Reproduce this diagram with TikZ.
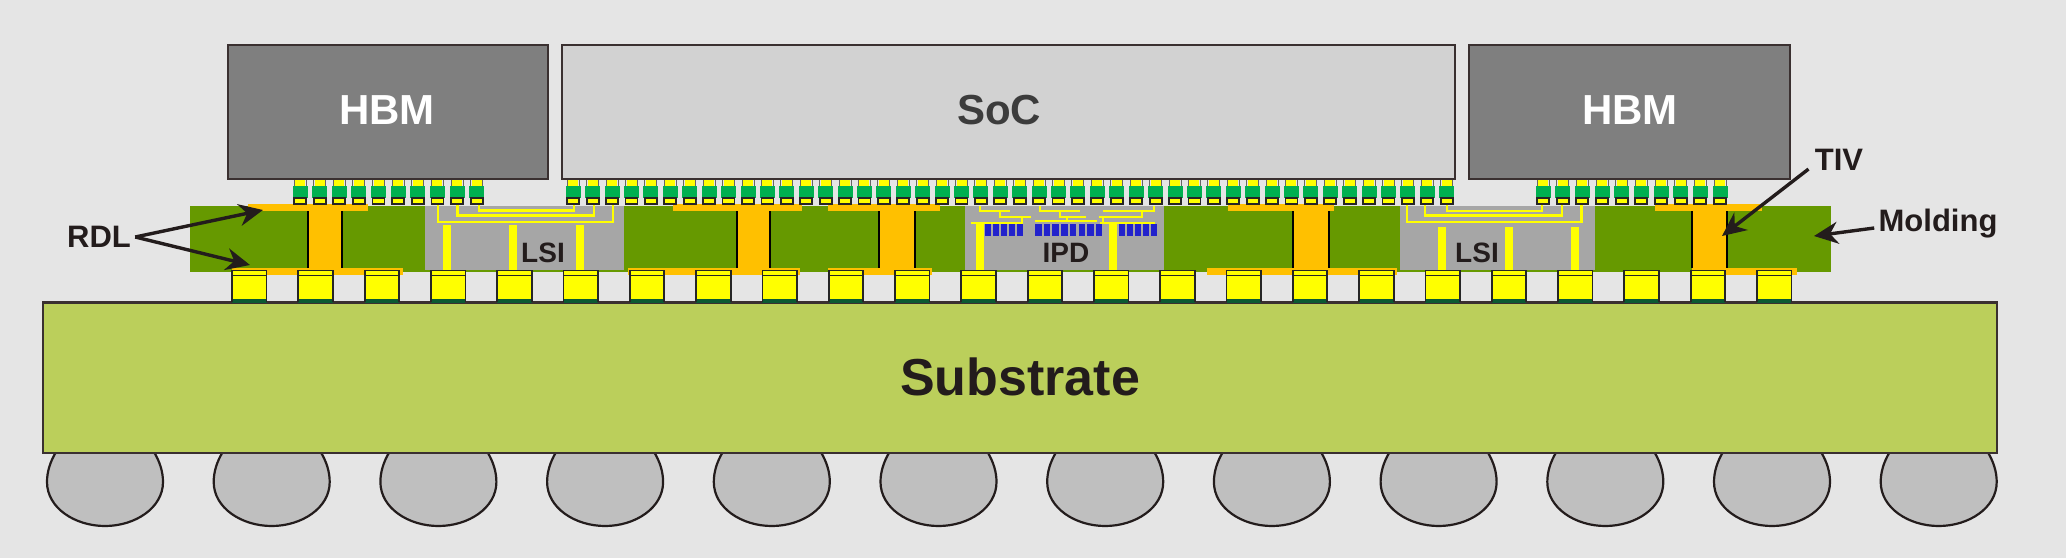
\documentclass[tikz,border=0pt]{standalone}
\usepackage{fontspec}
\setmainfont{Liberation Sans}
\usetikzlibrary{arrows.meta}
\definecolor{bgc}{HTML}{E5E5E5}
\definecolor{edgec}{HTML}{3A3030}
\definecolor{hbmc}{HTML}{7F7F7F}
\definecolor{socc}{HTML}{D2D2D2}
\definecolor{moldc}{HTML}{669900}
\definecolor{subc}{HTML}{BBCF5B}
\definecolor{ballc}{HTML}{BFBFBF}
\definecolor{rdlc}{HTML}{FFC000}
\definecolor{lsic}{HTML}{A6A6A6}
\definecolor{bumpg}{HTML}{00B050}
\definecolor{wirec}{HTML}{FFFF00}
\definecolor{darkg}{HTML}{0B5A32}
\definecolor{ipdb}{HTML}{2222CC}
\definecolor{inkc}{HTML}{231C1C}
\definecolor{dietext}{HTML}{3C3C3C}
\newcommand{\microbump}[1]{%
  \fill[bumpg] (#1-7.5,186) rectangle (#1+7.5,198);
  \fill[wirec] (#1-5,180) rectangle (#1+5,186);
  \draw[black!85,line width=.9pt,fill=wirec] (#1-6,198) rectangle (#1+6,204);
  \draw[black!60,line width=.5pt] (#1-6,180) -- (#1-6,186) (#1+6,180) -- (#1+6,186);
}
\newcommand{\cfourbump}[1]{%
  \fill[wirec] (#1,270) rectangle (#1+34.5,300);
  \fill[darkg] (#1,298.5) rectangle (#1+34.5,302.5);
  \draw[black!85,line width=.9pt] (#1,302) -- (#1,270.5) -- (#1+34.5,270.5) -- (#1+34.5,302);
  \draw[black!85,line width=.5pt] (#1,275) -- (#1+34.5,275);
}
\newcommand{\tivcol}[6]{% topL topR pillarL pillarR botL botR
  \fill[rdlc] (#1,204) rectangle (#2,211);
  \fill[rdlc] (#5,268) rectangle (#6,275);
  \fill[rdlc] (#3,204) rectangle (#4,275);
  \draw[black,line width=1.4pt] (#3,211) -- (#3,268) (#4,211) -- (#4,268);
}
\begin{document}
\begin{tikzpicture}[x=0.5pt,y=-0.5pt,
  die/.style={draw=edgec,line width=1.2pt},
  diename/.style={font=\bfseries\fontsize{21}{21}\selectfont},
  smalltag/.style={font=\bfseries\fontsize{14}{15}\selectfont,text=inkc,inner sep=0pt},
  callout/.style={font=\bfseries\fontsize{15.5}{16}\selectfont,text=inkc,inner sep=0pt},
  wire/.style={draw=wirec,line width=1.4pt},
  pillar/.style={draw=wirec,line width=3.6pt},
  pointer/.style={draw=inkc,line width=1.7pt,-{Stealth[length=12pt,width=11pt]}},
  ball/.style={draw=inkc,fill=ballc,line width=1.1pt}]
\useasboundingbox (0,0) rectangle (2066,558);
\fill[bgc] (0,0) rectangle (2066,558);
% solder balls
\foreach \k in {0,...,11}{
  \pgfmathsetmacro{\c}{105+166.7*\k}
  \draw[ball] (\c-49,452) .. controls (\c-55,462) and (\c-58,472) .. (\c-58,482)
     .. controls (\c-58,508) and (\c-30,526) .. (\c,526)
     .. controls (\c+30,526) and (\c+58,508) .. (\c+58,482)
     .. controls (\c+58,472) and (\c+55,462) .. (\c+49,452);
}
% dies and substrate
\draw[die,fill=subc,line width=1.4pt] (43,302.7) rectangle (1997,453);
\draw[die,fill=hbmc] (228,45) rectangle (548,179);
\draw[die,fill=socc] (562,45) rectangle (1455,179);
\draw[die,fill=hbmc] (1469,45) rectangle (1790,179);
% molding
\fill[moldc] (190,206) rectangle (1831,272);
% bridge dies
\fill[lsic] (425,206) rectangle (624,270);
\fill[lsic] (965,206) rectangle (1164,270);
\fill[lsic] (1400,206) rectangle (1595,270);
% RDL and TIV
\tivcol{248}{368}{308}{342}{232}{403}
\tivcol{673}{802}{737}{770}{628}{800}
\tivcol{828}{940}{879}{915}{828}{932}
\tivcol{1228}{1334}{1293}{1329}{1207}{1397}
\tivcol{1655}{1762}{1692}{1727}{1692}{1797}
% LSI wiring
\draw[wire] (438,204) -- (438,222) -- (613,222) -- (613,204);
\draw[wire] (457.7,204) -- (457.7,215.7) -- (594,215.7) -- (594,204);
\draw[wire] (479,204) -- (479,210.7) -- (574,210.7) -- (574,204);
\draw[pillar] (447,225) -- (447,270) (513,225) -- (513,270) (580,225) -- (580,270);
\draw[wire] (1407,204) -- (1407,222) -- (1581.7,222) -- (1581.7,204);
\draw[wire] (1425,204) -- (1425,215.7) -- (1562,215.7) -- (1562,204);
\draw[wire] (1447,204) -- (1447,211) -- (1542,211) -- (1542,204);
\draw[pillar] (1442,227) -- (1442,270) (1509,227) -- (1509,270) (1575,227) -- (1575,270);
% IPD wiring
\draw[wire] (980,206) -- (980,211) -- (1010,211) (1000,211) -- (1000,217) -- (1031,217) (1022,217) -- (1022,223) (971,223) -- (1023,223);
\draw[wire] (1040,206) -- (1040,211) -- (1080,211) (1060,211) -- (1060,217) -- (1086,217) (1067,217) -- (1067,221) (1035,221) -- (1097,221);
\draw[wire] (1154,206) -- (1154,211) -- (1103,211) (1142,211) -- (1142,217) -- (1099,217) (1103,217) -- (1103,223) (1100,223) -- (1155,223);
\draw[pillar] (980,223) -- (980,270) (1113,223) -- (1113,270);
\foreach \x in {985,993,1001,1009,1017}{\fill[ipdb] (\x,224) rectangle (\x+6,236);}
\foreach \k in {0,...,7}{\fill[ipdb] ({1035+8.7*\k},224) rectangle ({1035+8.7*\k+6.5},236);}
\foreach \x in {1119,1127,1135,1143,1151}{\fill[ipdb] (\x,224) rectangle (\x+6,236);}
% micro bumps
\foreach \k in {0,...,9}{\pgfmathsetmacro{\c}{300+19.63*\k}\microbump{\c}}
\foreach \k in {0,...,45}{\pgfmathsetmacro{\c}{573.3+19.41*\k}\microbump{\c}}
\foreach \k in {0,...,9}{\pgfmathsetmacro{\c}{1543+19.67*\k}\microbump{\c}}
% C4 bumps
\foreach \k in {0,...,23}{\pgfmathsetmacro{\c}{232+66.3*\k}\cfourbump{\c}}
% labels
\node[diename,text=white] (hbmleft) at (387,110) {HBM};
\node[diename,text=dietext] (soc) at (999,110) {SoC};
\node[diename,text=white] (hbmright) at (1630,110) {HBM};
\node[font=\bfseries\fontsize{26}{26}\selectfont,text=inkc] (substrate) at (1020,377) {Substrate};
\node[smalltag] (lsileft) at (543,253) {LSI};
\node[smalltag] (ipd) at (1066,253) {IPD};
\node[smalltag] (lsiright) at (1477,253) {LSI};
\node[callout] (rdl) at (99,237) {RDL};
\node[callout] (tiv) at (1839,160) {TIV};
\node[callout] (moldlabel) at (1938,224) {Molding};
% pointers
\coordinate (rdltop) at (263,210);
\coordinate (rdlbot) at (250,265);
\coordinate (tivtip) at (1722,236);
\coordinate (moldtip) at (1814,236);
\draw[pointer] ([xshift=2pt]rdl.east) -- (rdltop);
\draw[pointer] ([xshift=2pt]rdl.east) -- (rdlbot);
\draw[pointer] ([xshift=-3pt,yshift=1pt]tiv.south west) -- (tivtip);
\draw[pointer] ([xshift=-2pt,yshift=-2pt]moldlabel.west) -- (moldtip);
\end{tikzpicture}
\end{document}
